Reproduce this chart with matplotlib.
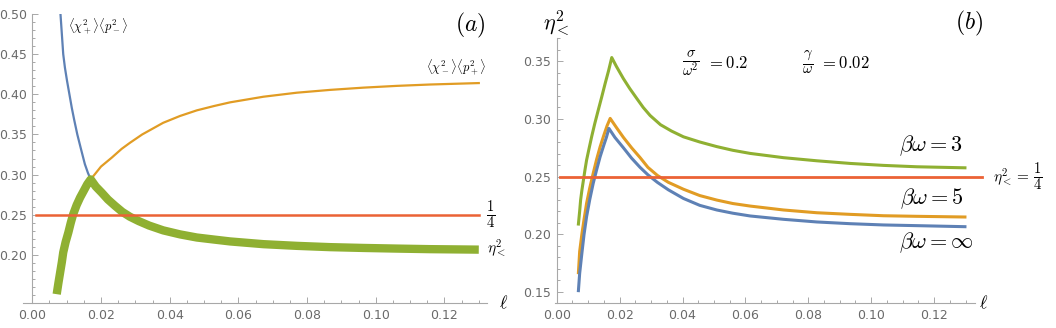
import numpy as np
import matplotlib.pyplot as plt
from matplotlib.ticker import MultipleLocator, FormatStrFormatter

plt.rcParams['mathtext.fontset'] = 'cm'
plt.rcParams['font.family'] = ['DejaVu Sans']

# couleurs style Mathematica
c_blue = '#5E81B5'
c_orange = '#E19C24'
c_green = '#8FB032'
c_red = '#EB6235'
c_axis = '#A8A8A8'
c_text = '#6A6A6A'

# ---- panneau (a) ----
# <chi+^2><p-^2> (partie visible, avant le croisement)
l_plus = [0.0082, 0.0086, 0.0090, 0.0095, 0.0101, 0.0108, 0.0115, 0.0122, 0.0131, 0.0141,
          0.0153, 0.0162, 0.0170]
v_plus = [0.500, 0.475, 0.450, 0.433, 0.417, 0.400, 0.383, 0.368, 0.350, 0.333,
          0.313, 0.302, 0.294]
# <chi-^2><p+^2> (partie visible, apres le croisement)
l_minus = [0.0170, 0.0185, 0.0200, 0.0231, 0.0260, 0.0284, 0.0320, 0.0381, 0.0430, 0.0479,
           0.0530, 0.0576, 0.0673, 0.0770, 0.0867, 0.0964, 0.1061, 0.1158, 0.1300]
v_minus = [0.294, 0.302, 0.310, 0.321, 0.332, 0.3395, 0.350, 0.3645, 0.373, 0.380,
           0.3855, 0.3900, 0.3970, 0.4020, 0.4055, 0.4083, 0.4105, 0.4122, 0.4140]
# eta^2 = min des deux
l_eta = [0.0071, 0.0076, 0.0081, 0.0086, 0.0090, 0.0097, 0.0105, 0.0112, 0.0119, 0.0129,
         0.0139, 0.0150, 0.0160, 0.0170, 0.0185, 0.0202, 0.0220, 0.0241, 0.0262, 0.0284,
         0.0310, 0.0340, 0.0381, 0.0430, 0.0479, 0.0530, 0.0576, 0.0673, 0.0770, 0.0867,
         0.0964, 0.1061, 0.1158, 0.1300]
v_eta = [0.151, 0.165, 0.178, 0.191, 0.203, 0.216, 0.228, 0.240, 0.2506, 0.262,
         0.2713, 0.280, 0.288, 0.294, 0.285, 0.2775, 0.269, 0.261, 0.2535, 0.2475,
         0.242, 0.2365, 0.2305, 0.2255, 0.2216, 0.2190, 0.2167, 0.2133, 0.2112, 0.2096,
         0.2086, 0.2078, 0.2071, 0.2065]

# ---- panneau (b) ----
l_b3 = [0.0069, 0.0073, 0.0076, 0.0080, 0.0085, 0.0090, 0.0095, 0.0103, 0.0111, 0.0121,
        0.0132, 0.0143, 0.0154, 0.0165, 0.0175, 0.0190, 0.0212, 0.0232, 0.0254, 0.0275,
        0.0297, 0.0330, 0.0365, 0.0403, 0.0455, 0.0509, 0.0560, 0.0615, 0.0721, 0.0827,
        0.0933, 0.1039, 0.1145, 0.1298]
eta_bw3 = [0.2088, 0.2200, 0.2296, 0.2380, 0.2470, 0.2560, 0.2643, 0.2745, 0.2845, 0.2960,
           0.3076, 0.3190, 0.3308, 0.3420, 0.3533, 0.3455, 0.3350, 0.3265, 0.3180, 0.3100,
           0.3030, 0.2950, 0.2895, 0.2845, 0.2800, 0.2760, 0.2728, 0.2701, 0.2664, 0.2637,
           0.2614, 0.2597, 0.2585, 0.2576]
l_b5 = [0.0069, 0.0073, 0.0080, 0.0087, 0.0095, 0.0105, 0.0116, 0.0127, 0.0138, 0.0150,
        0.0160, 0.0170, 0.0190, 0.0212, 0.0238, 0.0265, 0.0290, 0.0320, 0.0355, 0.0403,
        0.0455, 0.0509, 0.0560, 0.0615, 0.0721, 0.0827, 0.0933, 0.1039, 0.1145, 0.1298]
eta_bw5 = [0.1666, 0.1850, 0.2000, 0.2130, 0.2268, 0.2400, 0.2528, 0.2650, 0.2758, 0.2860,
           0.2940, 0.3005, 0.2925, 0.2840, 0.2750, 0.2665, 0.2580, 0.2510, 0.2450, 0.2390,
           0.2335, 0.2296, 0.2266, 0.2244, 0.2210, 0.2186, 0.2172, 0.2160, 0.2155, 0.2149]
l_binf = [0.0069, 0.0073, 0.0080, 0.0087, 0.0095, 0.0105, 0.0116, 0.0127, 0.0138, 0.0150,
          0.0158, 0.0166, 0.0185, 0.0212, 0.0238, 0.0265, 0.0290, 0.0320, 0.0355, 0.0403,
          0.0455, 0.0509, 0.0560, 0.0615, 0.0721, 0.0827, 0.0933, 0.1039, 0.1145, 0.1298]
eta_binf = [0.1510, 0.1660, 0.1834, 0.2000, 0.2152, 0.2300, 0.2441, 0.2560, 0.2672, 0.2775,
            0.2840, 0.2918, 0.2840, 0.2750, 0.2660, 0.2580, 0.2515, 0.2450, 0.2385, 0.2310,
            0.2250, 0.2210, 0.2182, 0.2158, 0.2129, 0.2106, 0.2091, 0.2080, 0.2074, 0.2065]

x_ticks = [0.00, 0.02, 0.04, 0.06, 0.08, 0.10, 0.12]


def style_axes(ax):
    for s in ['top', 'right']:
        ax.spines[s].set_visible(False)
    ax.spines['left'].set_position(('data', 0))
    for s in ['left', 'bottom']:
        ax.spines[s].set_color(c_axis)
        ax.spines[s].set_linewidth(0.8)
    ax.set_xticks(x_ticks)
    ax.xaxis.set_minor_locator(MultipleLocator(0.005))
    ax.yaxis.set_minor_locator(MultipleLocator(0.01))
    ax.xaxis.set_major_formatter(FormatStrFormatter('%.2f'))
    ax.yaxis.set_major_formatter(FormatStrFormatter('%.2f'))
    ax.tick_params(which='both', direction='in', color=c_axis, labelcolor=c_text,
                   labelsize=9, width=0.7)
    ax.tick_params(which='major', length=4, pad=4)
    ax.tick_params(which='minor', length=2.2)


fig = plt.figure(figsize=(10.56, 3.28), dpi=100)

# (a)
ax1 = fig.add_axes([0.0215, 0.0762, 0.4397, 0.881])
ax1.plot(l_plus, v_plus, color=c_blue, lw=1.6, solid_joinstyle='round')
ax1.plot(l_minus, v_minus, color=c_orange, lw=1.6, solid_joinstyle='round')
ax1.plot(l_eta, v_eta, color=c_green, lw=6, solid_capstyle='butt', solid_joinstyle='round')
ax1.plot([0.001, 0.130], [0.25, 0.25], color=c_red, lw=1.8)
ax1.set_xlim(-0.0028, 0.1324)
ax1.set_ylim(0.14, 0.50)
ax1.set_yticks([0.20, 0.25, 0.30, 0.35, 0.40, 0.45, 0.50])
style_axes(ax1)

ax1.text(0.0104, 0.484, r'$\langle\chi_+^2\rangle\langle p_-^2\rangle$', fontsize=9,
         va='center', ha='left')
ax1.text(0.1232, 0.433, r'$\langle\chi_-^2\rangle\langle p_+^2\rangle$', fontsize=9,
         va='center', ha='center')
ax1.text(0.1320, 0.25, r'$\frac{1}{4}$', fontsize=15, va='center', ha='left')
ax1.text(0.1325, 0.208, r'$\eta_<^2$', fontsize=11, va='center', ha='left', clip_on=False)
ax1.text(0.1275, 0.486, r'$(a)$', fontsize=17, va='center', ha='center')
ax1.text(0.1372, 0.14, r'$\ell$', fontsize=13, va='center', ha='center', clip_on=False)

# (b)
ax2 = fig.add_axes([0.5257, 0.0753, 0.3976, 0.8079])
ax2.plot(l_b3, eta_bw3, color=c_green, lw=2.2, solid_joinstyle='round')
ax2.plot(l_b5, eta_bw5, color=c_orange, lw=2.2, solid_joinstyle='round')
ax2.plot(l_binf, eta_binf, color=c_blue, lw=2.2, solid_joinstyle='round')
ax2.plot([0.001, 0.1352], [0.25, 0.25], color=c_red, lw=2.0, clip_on=False)
ax2.set_xlim(-0.0005, 0.133)
ax2.set_ylim(0.14, 0.37)
ax2.set_yticks([0.15, 0.20, 0.25, 0.30, 0.35])
style_axes(ax2)

ax2.text(0.0398, 0.3484, r'$\frac{\sigma}{\omega^2}$', fontsize=15, va='center', ha='left')
ax2.text(0.0478, 0.3484, r'$= 0.2$', fontsize=12, va='center', ha='left')
ax2.text(0.0780, 0.3484, r'$\frac{\gamma}{\omega}$', fontsize=15, va='center', ha='left')
ax2.text(0.0838, 0.3484, r'$= 0.02$', fontsize=12, va='center', ha='left')
ax2.text(0.1292, 0.2764, r'$\beta\omega = 3$', fontsize=16, va='center', ha='right')
ax2.text(0.1292, 0.2308, r'$\beta\omega = 5$', fontsize=16, va='center', ha='right')
ax2.text(0.1324, 0.1924, r'$\beta\omega = \infty$', fontsize=16, va='center', ha='right')
ax2.text(0.1387, 0.2496, r'$\eta_<^2 =$', fontsize=11, va='center', ha='left',
         clip_on=False)
ax2.text(0.1515, 0.2496, r'$\frac{1}{4}$', fontsize=15, va='center', ha='left',
         clip_on=False)
ax2.text(0.1311, 0.383, r'$(b)$', fontsize=17, va='center', ha='center', clip_on=False)
ax2.text(0.0, 0.384, r'$\eta_<^2$', fontsize=16, va='center', ha='center', clip_on=False)
ax2.text(0.1356, 0.14, r'$\ell$', fontsize=13, va='center', ha='center', clip_on=False)

fig.savefig('out.png', dpi=100)
